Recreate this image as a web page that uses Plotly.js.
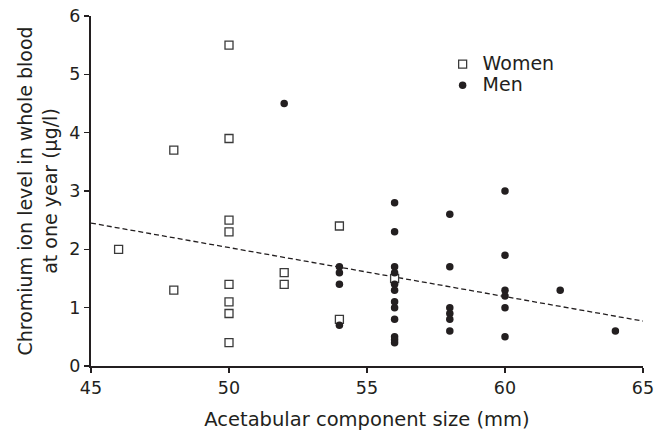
<!DOCTYPE html>
<html>
<head>
<meta charset="utf-8">
<script src="https://cdn.plot.ly/plotly-3.0.1.min.js"></script>
<style>html,body{margin:0;padding:0;background:#fff;}#chart{width:660px;height:432px;}</style>
</head>
<body>
<div id="chart"></div>
<script>
// Women
const womenX = [46, 48, 48, 50, 50, 50, 50, 50, 50, 50, 50, 52, 52, 54, 54, 56];
const womenY = [2.0, 3.7, 1.3, 5.5, 3.9, 2.5, 2.3, 1.4, 1.1, 0.9, 0.4, 1.6, 1.4, 2.4, 0.8, 1.5];
// Men
const menX = [52, 54, 54, 54, 54,
  56, 56, 56, 56, 56, 56, 56, 56, 56, 56, 56, 56,
  58, 58, 58, 58, 58, 58,
  60, 60, 60, 60, 60, 60,
  62, 64];
const menY = [4.5, 1.7, 1.6, 1.4, 0.7,
  2.8, 2.3, 1.7, 1.6, 1.4, 1.3, 1.1, 1.0, 0.8, 0.5, 0.45, 0.4,
  2.6, 1.7, 1.0, 0.9, 0.8, 0.6,
  3.0, 1.9, 1.3, 1.2, 1.0, 0.5,
  1.3, 0.6];
// Regression line
const fitX = [45, 65];
const fitY = [2.45, 0.77];
const xTicks = [45, 50, 55, 60, 65];
const yTicks = [0, 1, 2, 3, 4, 5, 6];

const fam = 'DejaVu Sans, sans-serif';
const ink = '#231f20';
const f = (s) => ({family: fam, size: s, color: ink});
const big = (t) => '<span style="font-size:19px">' + t + '</span>';

const traces = [
  {x: fitX, y: fitY, mode: 'lines', line: {color: ink, width: 1.3, dash: '5px,3px'}, showlegend: false, hoverinfo: 'skip'},
  {x: womenX, y: womenY, mode: 'markers', name: big('Women'),
   marker: {symbol: 'square', size: 8, color: '#ffffff', line: {color: '#3a3a3a', width: 1.3}}},
  {x: menX, y: menY, mode: 'markers', name: big('Men'),
   marker: {symbol: 'circle', size: 7.5, color: ink, line: {width: 0}}}
];

const layout = {
  width: 660, height: 432,
  margin: {l: 91, r: 17, t: 16, b: 66},
  paper_bgcolor: '#fff', plot_bgcolor: '#fff',
  font: f(17),
  showlegend: true,
  legend: {x: 0.637, y: 0.907, xanchor: 'left', yanchor: 'top', bgcolor: 'rgba(0,0,0,0)',
           font: f(14), itemwidth: 30, tracegroupgap: 0},
  xaxis: {
    range: [45, 65], tickvals: xTicks, ticktext: xTicks.map(String),
    showgrid: false, zeroline: false, showline: true, linecolor: ink, linewidth: 2,
    ticks: 'outside', ticklen: 5, tickwidth: 1.5, tickcolor: ink,
    tickfont: f(17.5),
    title: {text: 'Acetabular component size (mm)', font: f(19.5), standoff: 15}
  },
  yaxis: {
    range: [0, 6], tickvals: yTicks, ticktext: yTicks.map(String),
    showgrid: false, zeroline: false, showline: true, linecolor: ink, linewidth: 2,
    ticks: 'outside', ticklen: 5, tickwidth: 1.5, tickcolor: ink,
    tickfont: f(17.5),
    title: {text: 'Chromium ion level in whole blood<br>at one year (μg/l)', font: f(19), standoff: 7}
  }
};

Plotly.newPlot('chart', traces, layout, {displayModeBar: false, staticPlot: true});
</script>
</body>
</html>
